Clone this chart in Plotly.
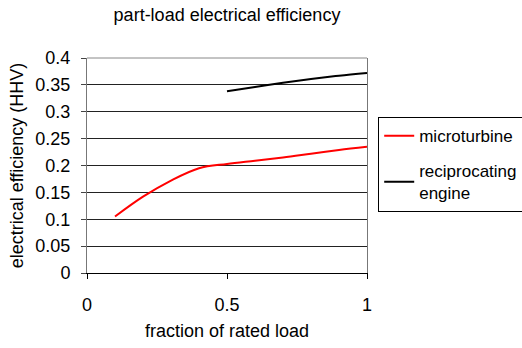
import plotly.graph_objects as go

load_micro = [0.1, 0.2, 0.3, 0.4, 0.5, 0.6, 0.7, 0.8, 0.9, 1.0]
eff_micro = [0.105, 0.142, 0.172, 0.195, 0.203, 0.209, 0.215, 0.222, 0.229, 0.235]
load_recip = [0.5, 0.6, 0.7, 0.8, 0.9, 1.0]
eff_recip = [0.338, 0.346, 0.354, 0.361, 0.367, 0.372]

FONT = "Liberation Sans, Arial, sans-serif"

fig = go.Figure()
fig.add_trace(go.Scatter(x=load_micro, y=eff_micro, mode="lines", name="microturbine",
                         legendgroup="a", line=dict(color="#ff0000", width=2, shape="spline")))
fig.add_trace(go.Scatter(x=load_recip, y=eff_recip, mode="lines", name="reciprocating<br>engine",
                         legendgroup="b", line=dict(color="#000000", width=2, shape="spline")))

fig.update_layout(
    width=522, height=348,
    margin=dict(l=87, r=155, t=58, b=75, autoexpand=False),
    paper_bgcolor="white", plot_bgcolor="white",
    font=dict(family=FONT, size=18, color="black"),
    title=dict(text="part-load electrical efficiency", x=0.5, xref="paper", xanchor="center",
               y=1 - 15 / 348, yanchor="middle", font=dict(size=18)),
    showlegend=True,
    legend=dict(x=1.04, y=0.725, xanchor="left", yanchor="top", bgcolor="white",
                bordercolor="black", borderwidth=1, traceorder="grouped", tracegroupgap=10,
                font=dict(size=17)),
    xaxis=dict(range=[0, 1], tickvals=[0, 0.5, 1], ticktext=["0", "0.5", "1"],
               showgrid=False, zeroline=False, showline=True, linecolor="black", linewidth=1,
               ticks="outside", ticklen=5, tickcolor="black", ticklabelstandoff=10,
               tickfont=dict(size=18),
               title=dict(text="fraction of rated load", standoff=10, font=dict(size=18))),
    yaxis=dict(range=[0, 0.4], dtick=0.05, showgrid=True, gridcolor="#222222",
               gridwidth=1, zeroline=False, showline=True, linecolor="#777777", linewidth=1,
               mirror=True, ticks="outside", ticklen=5, tickcolor="#444444",
               ticklabelstandoff=7, tickfont=dict(size=18),
               title=dict(text="electrical efficiency (HHV)", standoff=7, font=dict(size=18))),
)
fig.add_shape(type="line", xref="paper", yref="paper", x0=0, x1=1, y0=1, y1=1,
              line=dict(color="#888888", width=1))
fig.write_html("out.html")
